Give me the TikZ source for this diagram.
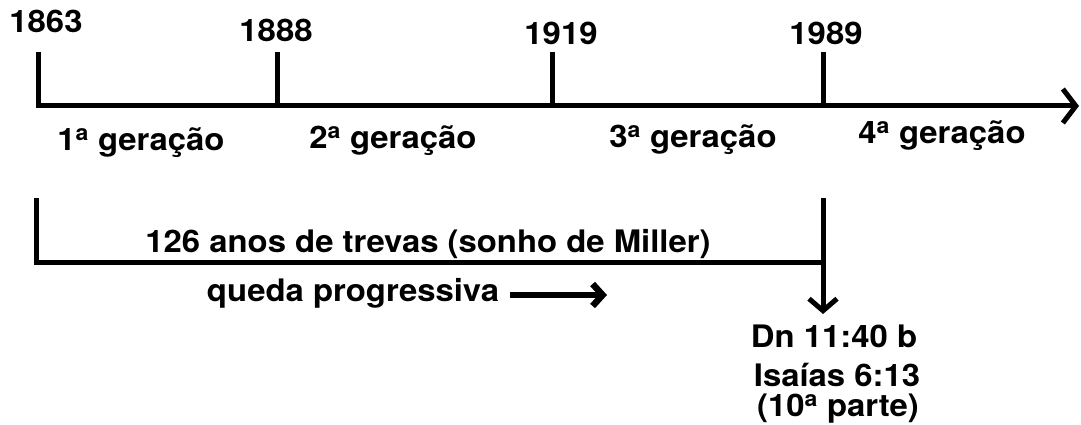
\documentclass[tikz,border=0pt]{standalone}
\usepackage{fontspec}
\setmainfont{TeX Gyre Heros}[FakeStretch=1.06]
\usetikzlibrary{arrows.meta}
\tikzset{
  lbl/.style={font=\fontsize{31}{35}\selectfont\bfseries, anchor=base, inner sep=0pt},
  thick line/.style={line width=5pt, line cap=butt, line join=miter},
  barb/.style={-{Straight Barb[length=13pt,width=34pt]}},
  smallbarb/.style={-{Straight Barb[length=12pt,width=28pt]}}
}
\newcommand{\ord}{\textsuperscript{a}}
\begin{document}
\begin{tikzpicture}[x=1pt,y=-1pt]
\useasboundingbox (0,0) rectangle (1081,425);
% timeline points
\coordinate (t1863top) at (38,52);
\coordinate (t1863) at (38,106);
\coordinate (t1888top) at (277,52);
\coordinate (t1888) at (277,106);
\coordinate (t1919top) at (552,52);
\coordinate (t1919) at (552,106);
\coordinate (t1989top) at (823,52);
\coordinate (t1989) at (823,106);
\coordinate (tend) at (1079,106);
\draw[thick line, barb] (t1863top) -- (t1863) -- (tend);
\draw[thick line] (t1888top) -- (t1888);
\draw[thick line] (t1919top) -- (t1919);
\draw[thick line] (t1989top) -- (t1989);
% year labels
\node[lbl] (y1863) at (46,33) {1863};
\node[lbl] (y1888) at (276,42) {1888};
\node[lbl] (y1919) at (561,45) {1919};
\node[lbl] (y1989) at (826,45) {1989};
% generations
\node[lbl] (g1) at (141,150) {1\ord{} geração};
\node[lbl] (g2) at (393,148) {2\ord{} geração};
\node[lbl] (g3) at (693,147) {3\ord{} geração};
\node[lbl] (g4) at (942,143) {4\ord{} geração};
% lower bracket
\coordinate (bl) at (36,198);
\coordinate (blc) at (36,262);
\coordinate (brc) at (823,262);
\coordinate (br) at (823,198);
\coordinate (barrow) at (823,314);
\draw[thick line] (bl) -- (blc) -- (brc);
\draw[thick line, smallbarb] (br) -- (barrow);
\node[lbl] (trevas) at (428,252) {126 anos de trevas (sonho de Miller)};
\node[lbl] (queda) at (353,301) {queda progressiva};
\coordinate (qs) at (510,295);
\coordinate (qe) at (607,295);
\draw[thick line, line width=6.5pt, -{Straight Barb[length=10pt,width=22pt]}] (qs) -- (qe);
\node[lbl] (dn) at (834,347) {Dn 11:40 b};
\node[lbl] (is) at (837,386) {Isaías 6:13};
\node[lbl] (parte) at (838,416) {(10\ord{} parte)};
\end{tikzpicture}
\end{document}
